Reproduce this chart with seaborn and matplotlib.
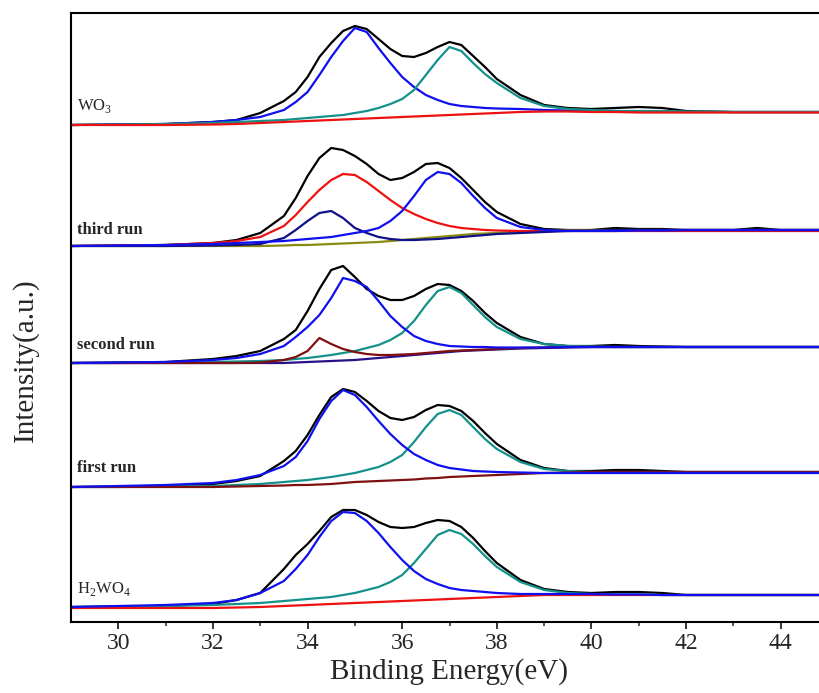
import numpy as np
import matplotlib
matplotlib.use("Agg")
import matplotlib.pyplot as plt
import seaborn as sns

# binding energy grid (eV) shared by every trace
energy = [29, 30, 31, 32, 32.5, 33, 33.5, 33.75, 34, 34.25, 34.5, 34.75, 35, 35.25, 35.5, 35.75,
          36, 36.25, 36.5, 36.75, 37, 37.25, 37.5, 37.75, 38, 38.5, 39, 39.5, 40, 40.5, 41, 41.5,
          42, 42.5, 43, 43.5, 44, 45]

# WO3
wo3_total = [0, 0.5, 1, 3, 5, 12, 24, 33, 48, 68, 82, 94, 99, 96, 86, 76, 69, 68, 72, 78, 83, 80, 69, 58,
             46, 30, 20, 17, 16, 17, 18, 17, 14, 13.5, 13, 13, 13, 13]
wo3_w72 = [0, 0.5, 1, 3, 5, 8, 15, 23, 33, 50, 68, 84, 97, 93, 77, 62, 48, 38, 30, 25, 21, 19, 18, 17,
           16.5, 16, 15, 14.5, 14, 14, 13.5, 13.5, 13, 13, 13, 13, 13, 13]
wo3_w52 = [0, 0.5, 1, 2, 3, 4, 5, 6, 7, 8, 9, 10, 12, 14, 17, 21, 26, 35, 50, 65, 78, 74, 62, 51,
           42, 27, 19, 16, 15, 14, 14, 14, 13.5, 13.5, 13, 13, 13, 13]
wo3_bg = [0, 0, 0, 0.5, 1, 2, 3, 3.5, 4, 4.5, 5, 5.5, 6, 6.5, 7, 7.5, 8, 8.5, 9, 9.5, 10, 10.5, 11, 11.5,
          12, 13, 13.5, 13.5, 13, 13, 12.5, 12.5, 12.5, 12.5, 12.5, 12.5, 12.5, 12.5]

# third run
r3_total = [0, 0.5, 1, 3, 6, 13, 30, 48, 70, 88, 98, 96, 90, 82, 72, 66, 68, 74, 82, 83, 78, 68, 56, 44,
            34, 22, 17, 16, 16, 18, 17, 17, 16, 16, 16, 18, 16, 16]
r3_red = [0, 0.5, 1, 3, 5, 9, 20, 31, 44, 56, 66, 72, 71, 64, 55, 46, 38, 32, 27, 23, 20, 18, 17, 16,
          15.5, 15, 15, 15, 15, 15, 15, 15, 15, 15, 15, 15, 15, 15]
r3_navy = [0, 0, 0, 0.5, 1, 2, 8, 16, 25, 33, 35, 28, 18, 13, 9, 7, 6, 6, 6.5, 7, 8, 9, 10, 11,
           12, 13, 14, 15, 15.5, 16, 16, 16, 16, 16, 16, 16, 16, 16]
r3_blue = [0, 0.5, 1, 2, 3, 4, 5, 6, 7, 8, 9, 11, 13, 15, 18, 25, 35, 50, 66, 74, 72, 63, 50, 38,
           28, 19, 16, 15, 15, 15, 15.5, 15.5, 16, 16, 16, 16, 16, 16]
r3_bg = [0, 0, 0, 0, 0, 0, 0.5, 1, 1, 1.5, 2, 2.5, 3, 3.5, 4, 5, 6, 7, 8, 9, 10, 11, 12, 12.5,
         13, 14, 15, 15.5, 16, 16, 16, 16, 16, 16, 16, 16, 16, 16]

# second run
r2_total = [0, 0.5, 1, 4, 7, 12, 24, 33, 52, 74, 93, 97, 86, 74, 67, 63, 63, 67, 74, 79, 78, 72, 62, 50,
            40, 26, 19, 17, 17, 18, 17, 16.5, 16, 16, 16, 16, 16, 16]
r2_blue = [0, 0.5, 1, 3, 5, 9, 17, 26, 36, 48, 65, 85, 82, 76, 62, 47, 36, 27, 22, 19, 17, 16.5, 16, 16,
           15.5, 15.5, 15.5, 16, 16, 16, 16, 16, 16, 16, 16, 16, 16, 16]
r2_teal = [0, 0, 0.5, 1, 1.5, 2, 3, 4, 5, 6.5, 8, 10, 12, 15, 18, 23, 30, 42, 58, 72, 76, 70, 58, 46,
           36, 24, 19, 17, 16.5, 16, 16, 16, 16, 16, 16, 16, 16, 16]
r2_darkred = [0, 0, 0, 0, 0, 0.5, 3, 6, 12, 25, 19, 14, 11, 9, 8, 8, 8.5, 9, 10, 11, 12, 12.5, 13, 13.5,
              14, 15, 15.5, 16, 16, 16, 16, 16, 16, 16, 16, 16, 16, 16]
r2_bg = [0, 0, 0, 0, 0, 0, 0, 0.5, 1, 1.5, 2, 2.5, 3, 4, 5, 6, 7, 8, 9, 10, 11, 12, 12.5, 13,
         13.5, 14.5, 15, 15.5, 16, 16, 16, 16, 16, 16, 16, 16, 16, 16]

# first run
r1_total = [0, 0.5, 1, 3, 6, 11, 26, 36, 52, 72, 90, 98, 95, 86, 76, 69, 67, 70, 77, 82, 81, 76, 66, 54,
            43, 27, 19, 16, 16, 17, 17, 16, 15, 15, 15, 15, 15, 15]
r1_blue = [0, 1, 2, 4, 7, 12, 21, 30, 46, 68, 86, 97, 92, 80, 66, 53, 42, 33, 27, 22, 19, 17.5, 16, 15.5,
           15, 14.5, 14, 14, 14, 14, 14, 14, 14, 14, 14, 14, 14, 14]
r1_teal = [0, 0, 0.5, 1, 2, 3, 5, 6, 7, 8.5, 10, 12, 14, 17, 20, 25, 32, 45, 60, 73, 77, 72, 60, 48,
           38, 25, 18, 16, 15, 15, 15, 15, 15, 15, 15, 15, 15, 15]
r1_bg = [0, 0, 0, 0, 0.5, 1, 1.5, 2, 2, 2.5, 3, 4, 5, 5.5, 6, 6.5, 7, 7.5, 8.5, 9, 10, 10.5, 11, 11.5,
         12, 13, 14, 14.5, 15, 15, 15, 15, 15, 15, 15, 15, 15, 15]

# H2WO4
h2_total = [0, 0.5, 1, 3, 7, 14, 38, 52, 63, 76, 90, 97, 97, 92, 85, 80, 79, 80, 84, 87, 86, 80, 69, 56,
            44, 27, 18, 15, 14, 15, 15, 14, 12, 12, 12, 12, 12, 12]
h2_blue = [0, 1, 2, 4, 7, 14, 26, 38, 52, 70, 86, 95, 94, 86, 74, 60, 47, 36, 28, 23, 19, 17, 16, 15,
           14, 13, 13, 13, 13, 12.5, 12.5, 12, 12, 12, 12, 12, 12, 12]
h2_teal = [0, 0.5, 1, 2, 3, 4, 6, 7, 8, 9, 10, 12, 14, 17, 20, 25, 32, 44, 58, 72, 77, 73, 63, 51,
           40, 25, 17, 14, 13, 12.5, 12.5, 12, 12, 12, 12, 12, 12, 12]
h2_bg = [-1, -1, -1, -1, -0.5, 0, 1, 1.5, 2, 2.5, 3, 3.5, 4, 4.5, 5, 5.5, 6, 6.5, 7, 7.5, 8, 8.5, 9, 9.5,
         10, 11, 12, 12, 12, 12, 12, 12, 12, 12, 12, 12, 12, 12]

labels = ["WO$_{\\mathregular{3}}$", "third run", "second run", "first run",
          "H$_{\\mathregular{2}}$WO$_{\\mathregular{4}}$"]
offsets = [497, 376, 259, 135, 15]

panels = [
    [(wo3_total, "black"), (wo3_w72, "#1010ee"), (wo3_w52, "#13918a"), (wo3_bg, "#ee1111")],
    [(r3_total, "black"), (r3_bg, "#8a8a10"), (r3_red, "#ee1111"), (r3_navy, "#10108a"), (r3_blue, "#1010ee")],
    [(r2_total, "black"), (r2_bg, "#2a1088"), (r2_teal, "#13918a"), (r2_darkred, "#801010"), (r2_blue, "#1010ee")],
    [(r1_total, "black"), (r1_teal, "#13918a"), (r1_bg, "#801010"), (r1_blue, "#1010ee")],
    [(h2_total, "black"), (h2_teal, "#13918a"), (h2_bg, "#ee1111"), (h2_blue, "#1010ee")],
]

sns.set_theme(style="ticks")
plt.rcParams['font.family'] = ['Liberation Serif', 'DejaVu Serif']
plt.rcParams['mathtext.fontset'] = 'custom'
plt.rcParams['mathtext.rm'] = 'Liberation Serif'

fig = plt.figure(figsize=(8.2, 6.93), dpi=100)
ax = fig.add_axes([71 / 820, 71 / 693, 757 / 820, 609 / 693])

x = np.array(energy)
for curves, off in zip(panels, offsets):
    for vals, col in curves:
        sns.lineplot(x=x, y=np.array(vals) + off, color=col, lw=1.6, ax=ax,
                     errorbar=None, sort=False)

# sample names sit just above each baseline
label_y = [507, 384, 269, 146, 24]
for lab, ly, bold in zip(labels, label_y, [False, True, True, True, False]):
    ax.text(29.13, ly, lab, fontsize=12, fontweight='bold' if bold else 'normal',
            va='bottom', ha='left')

ax.set_xlim(29, 45)
ax.set_ylim(0, 609)
ax.set_xticks(range(30, 45, 2))
ax.set_xticks(range(31, 45, 2), minor=True)
ax.set_yticks([])
ax.tick_params(axis='x', which='major', length=5, width=1.3, direction='out', labelsize=17, pad=3)
ax.tick_params(axis='x', which='minor', length=3, width=1.1, direction='out')
for s in ax.spines.values():
    s.set_linewidth(1.5)
    s.set_color('black')

ax.set_xlabel("Binding Energy(eV)", fontsize=21, labelpad=3)
fig.text(25 / 820, 1 - 360 / 693, "Intensity(a.u.)", rotation=90, fontsize=21,
         ha='center', va='center')

fig.savefig("out.png", dpi=100)
